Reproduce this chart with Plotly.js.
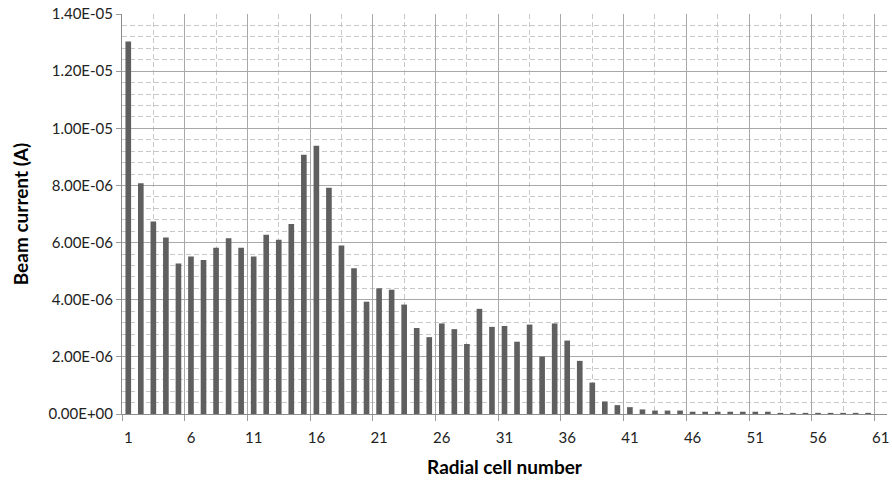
<!DOCTYPE html>
<html>
<head>
<meta charset="utf-8">
<script src="https://cdn.plot.ly/plotly-3.0.1.min.js"></script>
<style>
  html, body { margin: 0; padding: 0; background: #ffffff; }
  #chart { width: 892px; height: 481px; }
</style>
</head>
<body>
<div id="chart"></div>
<script>
// ---- Data ----
var cellNumbers = [];
for (var i = 1; i <= 61; i++) cellNumbers.push(i);

var beamCurrent = [
  1.304e-5, 8.08e-6, 6.74e-6, 6.18e-6, 5.27e-6, 5.51e-6, 5.39e-6, 5.82e-6, 6.15e-6, 5.82e-6,
  5.51e-6, 6.27e-6, 6.10e-6, 6.65e-6, 9.07e-6, 9.39e-6, 7.92e-6, 5.90e-6, 5.10e-6, 3.93e-6,
  4.40e-6, 4.35e-6, 3.83e-6, 3.01e-6, 2.69e-6, 3.17e-6, 2.97e-6, 2.45e-6, 3.68e-6, 3.05e-6,
  3.08e-6, 2.53e-6, 3.13e-6, 2.01e-6, 3.17e-6, 2.57e-6, 1.86e-6, 1.10e-6, 4.4e-7, 3.1e-7,
  2.4e-7, 1.6e-7, 1.2e-7, 1.2e-7, 1.2e-7, 8e-8, 8e-8, 8e-8, 8e-8, 8e-8,
  8e-8, 8e-8, 4e-8, 4e-8, 4e-8, 4e-8, 4e-8, 4e-8, 4e-8, 4e-8,
  0
];

var xTickLabels = ['1', '6', '11', '16', '21', '26', '31', '36', '41', '46', '51', '56', '61'];
var yTickVals = [0, 2e-6, 4e-6, 6e-6, 8e-6, 1e-5, 1.2e-5, 1.4e-5];
var yTickLabels = ['0.00E+00', '2.00E-06', '4.00E-06', '6.00E-06', '8.00E-06', '1.00E-05', '1.20E-05', '1.40E-05'];

// ---- Axis helpers (category boundaries / gridline positions) ----
var xLabelVals = xTickLabels.map(function (t) { return Number(t); });
var xMajorVals = xTickLabels.map(function (t) { return Number(t) - 0.5; });
var xMinorVals = xTickLabels.slice(0, -1).map(function (t) { return Number(t) + 2; });
var yMinorVals = [];
for (var k = 0; k < yTickVals.length - 1; k++) {
  var step = (yTickVals[k + 1] - yTickVals[k]) / 5;
  for (var j = 1; j < 5; j++) yMinorVals.push(yTickVals[k] + j * step);
}

var FONT = 'Lato, "Open Sans", "DejaVu Sans", sans-serif';
var xRange = [0.5, cellNumbers.length + 0.5];
var MAJOR = '#a8a8a8', MINOR = '#c8c8c8', DASH = '5px,3px';

var bars = {
  type: 'bar',
  x: cellNumbers,
  y: beamCurrent,
  marker: { color: '#5f5f5f', line: { width: 0 } },
  hoverinfo: 'x+y'
};

// invisible helper so the boundary-tick axis (x2) is created
var boundaryAxisHelper = {
  type: 'scatter',
  mode: 'none',
  x: xMajorVals,
  y: xMajorVals.map(function () { return 0; }),
  xaxis: 'x2',
  yaxis: 'y',
  hoverinfo: 'skip',
  showlegend: false
};

var layout = {
  width: 892,
  height: 481,
  margin: { l: 122, r: 5, t: 14, b: 67, pad: 0 },
  paper_bgcolor: '#ffffff',
  plot_bgcolor: '#ffffff',
  showlegend: false,
  bargap: 0.55,
  font: { family: FONT, size: 15, color: '#222222' },
  // labelled category axis (labels centred on categories)
  xaxis: {
    range: xRange,
    tickmode: 'array',
    tickvals: xLabelVals,
    ticktext: xTickLabels,
    ticks: '',
    ticklabelstandoff: 10,
    showgrid: false,
    minor: {
      tickmode: 'array',
      tickvals: xMinorVals,
      showgrid: true,
      gridcolor: MINOR,
      griddash: DASH,
      gridwidth: 1,
      ticks: ''
    },
    showline: true,
    linecolor: '#8c8c8c',
    linewidth: 1,
    zeroline: false,
    tickfont: { family: FONT, size: 15, color: '#222222' },
    title: {
      text: 'Radial cell number',
      font: { family: FONT, size: 19, color: '#000000', weight: 'bold' },
      standoff: 15
    },
    fixedrange: true
  },
  // overlay axis for category-boundary ticks and solid gridlines
  xaxis2: {
    overlaying: 'x',
    anchor: 'y',
    side: 'bottom',
    range: xRange,
    tickmode: 'array',
    tickvals: xMajorVals,
    showticklabels: false,
    ticks: 'outside',
    ticklen: 6,
    tickcolor: '#9a9a9a',
    showgrid: true,
    gridcolor: MAJOR,
    gridwidth: 1,
    showline: false,
    zeroline: false,
    fixedrange: true
  },
  yaxis: {
    range: [0, 1.4e-5],
    tickmode: 'array',
    tickvals: yTickVals,
    ticktext: yTickLabels,
    ticks: 'outside',
    ticklen: 5,
    tickcolor: '#9a9a9a',
    showgrid: true,
    gridcolor: MAJOR,
    gridwidth: 1,
    minor: {
      tickmode: 'array',
      tickvals: yMinorVals,
      showgrid: true,
      gridcolor: MINOR,
      griddash: DASH,
      gridwidth: 1,
      ticks: ''
    },
    showline: true,
    linecolor: '#8c8c8c',
    linewidth: 1,
    zeroline: false,
    tickfont: { family: FONT, size: 15, color: '#222222' },
    title: {
      text: 'Beam current (A)',
      font: { family: FONT, size: 19, color: '#000000', weight: 'bold' },
      standoff: 14
    },
    fixedrange: true
  }
};

Plotly.newPlot('chart', [boundaryAxisHelper, bars], layout, { displayModeBar: false, staticPlot: true });
</script>
</body>
</html>
